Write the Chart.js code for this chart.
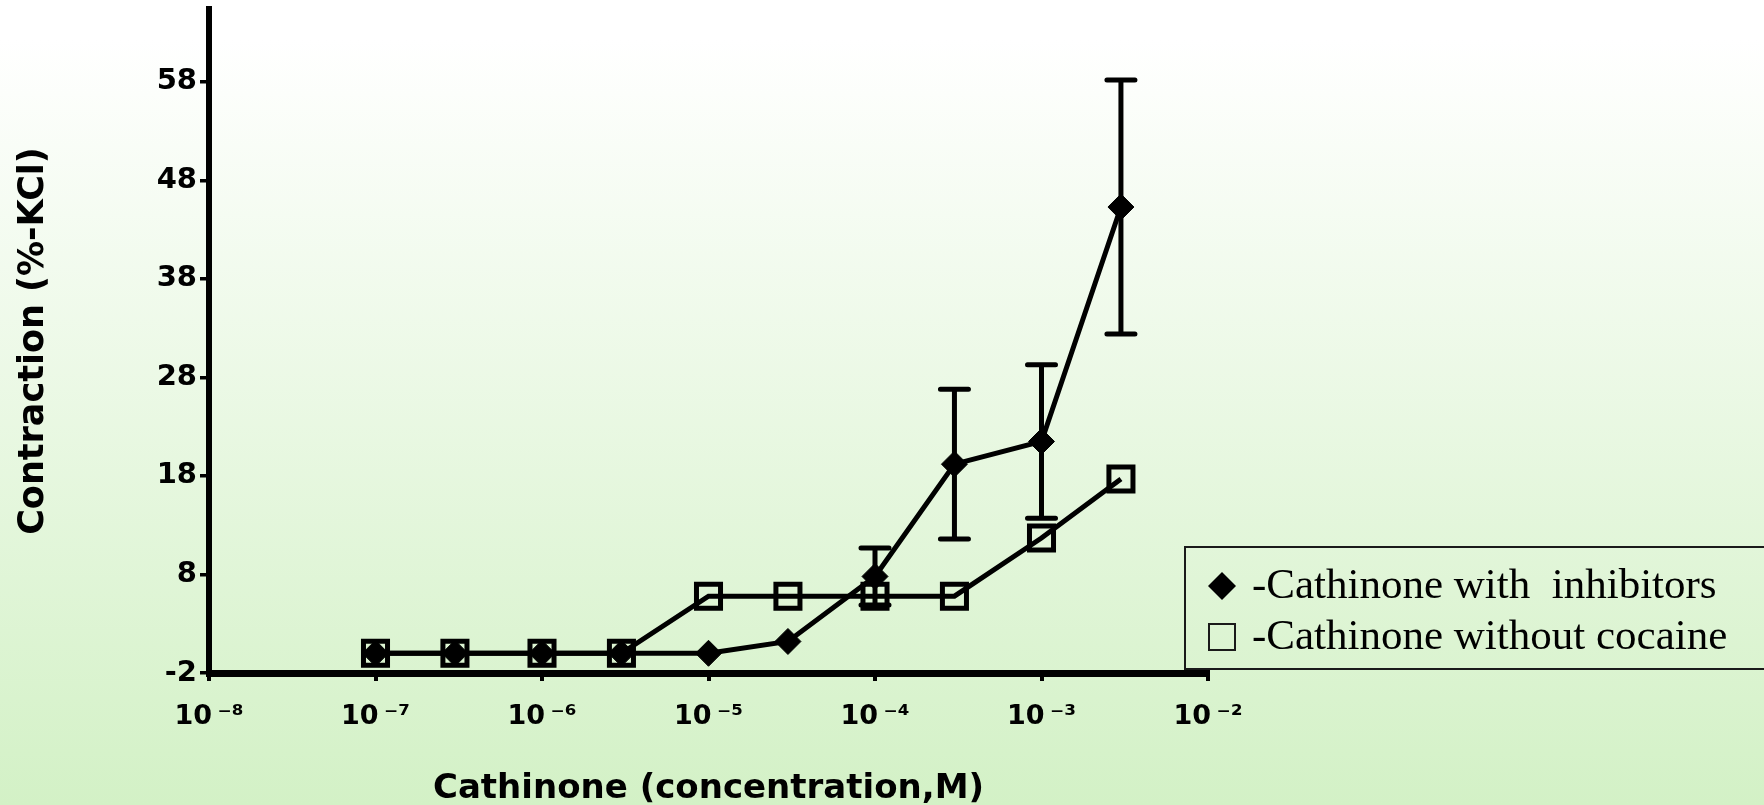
<!DOCTYPE html>
<html>
<head>
<meta charset="utf-8">
<script src="https://cdn.jsdelivr.net/npm/chart.js"></script>
<style>
  html, body { margin: 0; padding: 0; overflow: hidden; }
  body { background: linear-gradient(to bottom, #ffffff 0px, #ffffff 40px, #d3f1c6 805px); }
  #wrap { width: 1764px; height: 805px; position: relative; }
</style>
</head>
<body>
<div id="wrap"><canvas id="chart"></canvas></div>
<script>
// concentrations (M)
const concentrations = [1e-7, 3e-7, 1e-6, 3e-6, 1e-5, 3e-5, 1e-4, 3e-4, 1e-3, 3e-3];
// contraction, % of KCl
const withInhibitors = [0, 0, 0, 0, 0, 1.2, 7.8, 19.2, 21.5, 45.3];
const withInhibitorsErr = [0, 0, 0, 0, 0, 0, 2.9, 7.6, 7.8, 12.9];
const withoutCocaine = [0, 0, 0, 0, 5.8, 5.8, 5.8, 5.8, 11.7, 17.7];

const xTicks = [1e-8, 1e-7, 1e-6, 1e-5, 1e-4, 1e-3, 1e-2];
const xTickLabels = ["10\u2009\u207B\u2078", "10\u2009\u207B\u2077", "10\u2009\u207B\u2076", "10\u2009\u207B\u2075",
                     "10\u2009\u207B\u2074", "10\u2009\u207B\u00B3", "10\u2009\u207B\u00B2"];
const yTicks = [-2, 8, 18, 28, 38, 48, 58];

const seriesLabels = ["-Cathinone with  inhibitors", "-Cathinone without cocaine"];

const toPoints = (ys) => concentrations.map((c, i) => ({ x: c, y: ys[i] }));

// error bars for the first series, drawn through the chart's scales
const errorBars = {
    id: "errorBars",
    beforeDatasetsDraw(chart) {
        const { ctx, scales: { x, y } } = chart;
        ctx.save();
        ctx.strokeStyle = "#000";
        ctx.lineWidth = 5;
        ctx.lineCap = "round";
        withInhibitors.forEach((v, i) => {
            const e = withInhibitorsErr[i];
            if (!e) return;
            const px = x.getPixelForValue(concentrations[i]);
            const top = y.getPixelForValue(v + e);
            const bot = y.getPixelForValue(v - e);
            ctx.beginPath();
            ctx.moveTo(px, top); ctx.lineTo(px, bot);
            ctx.moveTo(px - 14, top); ctx.lineTo(px + 14, top);
            ctx.moveTo(px - 14, bot); ctx.lineTo(px + 14, bot);
            ctx.stroke();
        });
        ctx.restore();
    }
};

// boxed legend in the lower right
const boxLegend = {
    id: "boxLegend",
    afterDraw(chart) {
        const ctx = chart.ctx;
        const sets = chart.data.datasets;
        ctx.save();
        ctx.strokeStyle = "#1a1a1a";
        ctx.lineWidth = 2;
        ctx.strokeRect(1185, 547, 600, 122);

        ctx.fillStyle = "#000";
        ctx.font = "43px 'Liberation Serif', 'Times New Roman', serif";
        ctx.textBaseline = "middle";
        const rows = [586, 637];
        sets.forEach((ds, i) => {
            const cy = rows[i];
            const cx = 1222;
            if (ds.pointStyle === "rectRot") {
                ctx.beginPath();
                ctx.moveTo(cx, cy - 14); ctx.lineTo(cx + 14, cy);
                ctx.lineTo(cx, cy + 14); ctx.lineTo(cx - 14, cy);
                ctx.closePath();
                ctx.fill();
            } else {
                ctx.lineWidth = 2;
                ctx.strokeRect(cx - 13, cy - 13, 26, 26);
            }
            ctx.fillText(ds.label, 1252, cy + 1);
        });
        ctx.restore();
    }
};

const noPad = (scale) => {
    scale.paddingTop = 0; scale.paddingBottom = 0;
    scale.paddingLeft = 0; scale.paddingRight = 0;
};

new Chart(document.getElementById("chart"), {
    type: "line",
    data: {
        datasets: [
            {
                label: seriesLabels[0],
                data: toPoints(withInhibitors),
                borderColor: "#000",
                borderWidth: 5,
                pointStyle: "rectRot",
                pointRadius: 13,
                pointBackgroundColor: "#000",
                pointBorderColor: "#000",
                pointBorderWidth: 1,
                order: 2,
            },
            {
                label: seriesLabels[1],
                data: toPoints(withoutCocaine),
                borderColor: "#000",
                borderWidth: 5,
                pointStyle: "rect",
                pointRadius: 17,
                pointBackgroundColor: "rgba(0,0,0,0)",
                pointBorderColor: "#000",
                pointBorderWidth: 5,
                order: 1,
            },
        ],
    },
    options: {
        responsive: true,
        maintainAspectRatio: false,
        animation: false,
        layout: { autoPadding: false, padding: { top: 9, right: 556, bottom: 0, left: 0 } },
        plugins: {
            legend: { display: false },
            tooltip: { enabled: false },
        },
        scales: {
            x: {
                type: "logarithmic",
                min: 1e-8,
                max: 1e-2,
                afterBuildTicks: (scale) => { scale.ticks = xTicks.map((v) => ({ value: v })); },
                afterFit: (scale) => { scale.height = 132; noPad(scale); },
                border: { display: true, color: "#000", width: 7 },
                grid: { display: true, drawOnChartArea: false, drawTicks: true, tickLength: 8, lineWidth: 4, color: "#000" },
                ticks: {
                    color: "#000",
                    font: { family: "'DejaVu Sans', Verdana, sans-serif", size: 27, weight: "bold" },
                    padding: 20,
                    maxRotation: 0,
                    autoSkip: false,
                    callback: (value, index) => xTickLabels[index],
                },
                title: {
                    display: true,
                    text: "Cathinone (concentration,M)",
                    color: "#000",
                    font: { family: "'DejaVu Sans', Verdana, sans-serif", size: 34, weight: "bold", lineHeight: 1.2 },
                    padding: { top: 0, bottom: -5 },
                },
            },
            y: {
                min: -2,
                max: 65.4,
                afterBuildTicks: (scale) => { scale.ticks = yTicks.map((v) => ({ value: v })); },
                afterFit: (scale) => { scale.width = 209; noPad(scale); },
                border: { display: true, color: "#000", width: 6 },
                grid: { display: true, drawOnChartArea: false, drawTicks: true, tickLength: 9, lineWidth: 3.5, color: "#000" },
                ticks: {
                    color: "#000",
                    font: { family: "'DejaVu Sans', Verdana, sans-serif", size: 29, weight: "bold" },
                    padding: 3,
                    callback: (value) => String(value),
                },
                title: {
                    display: true,
                    text: "Contraction (%-KCl)",
                    color: "#000",
                    font: { family: "'DejaVu Sans', Verdana, sans-serif", size: 35, weight: "bold", lineHeight: 1.2 },
                    padding: { top: 13, bottom: 0 },
                },
            },
        },
    },
    plugins: [errorBars, boxLegend],
});
</script>
</body>
</html>
